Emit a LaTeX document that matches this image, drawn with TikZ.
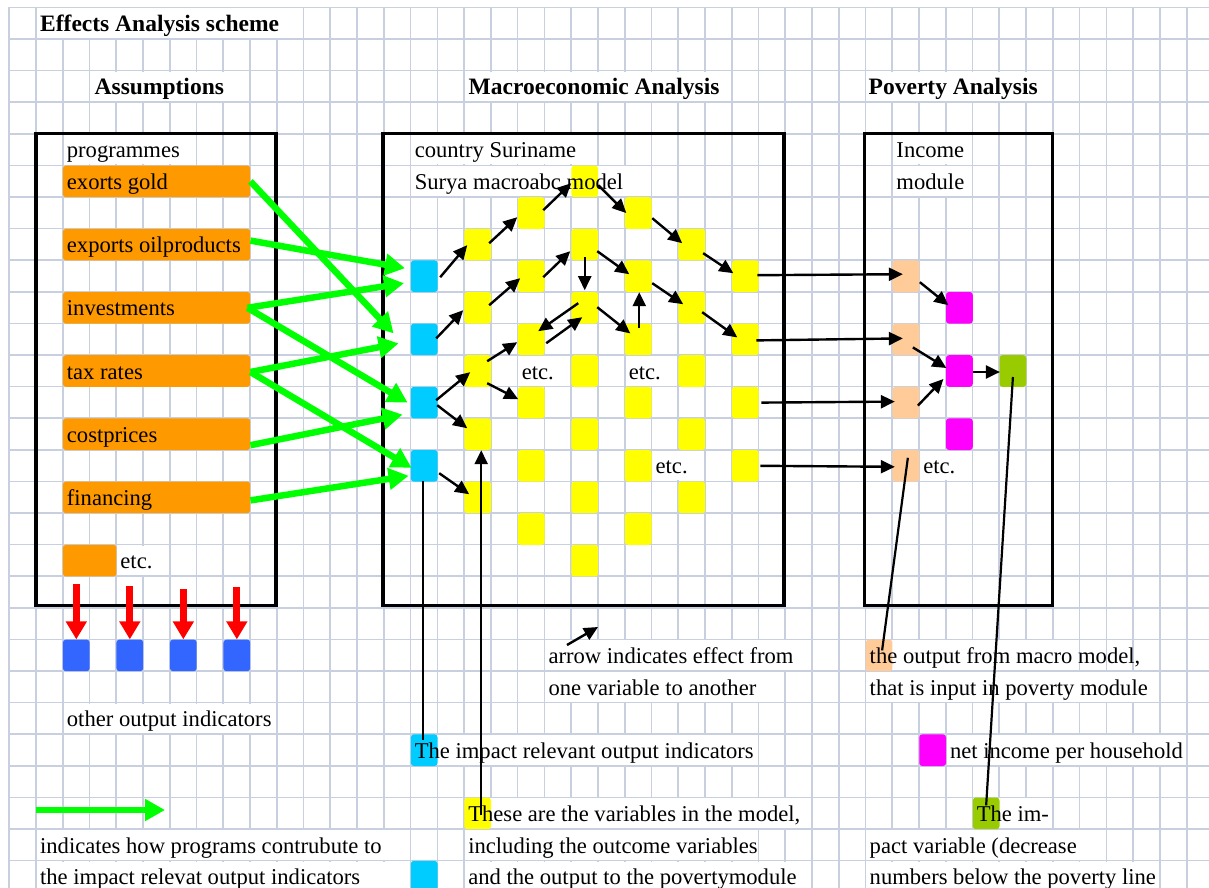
\documentclass[tikz,border=0pt]{standalone}
\usepackage{fontspec}
\setmainfont{Liberation Serif}
\usetikzlibrary{arrows.meta}
\definecolor{gridc}{RGB}{200,208,224}
\definecolor{orng}{RGB}{255,153,0}
\definecolor{yel}{RGB}{255,255,0}
\definecolor{cyn}{RGB}{0,204,255}
\definecolor{blu}{RGB}{51,102,255}
\definecolor{pch}{RGB}{255,204,153}
\definecolor{mag}{RGB}{255,0,255}
\definecolor{grn}{RGB}{153,204,0}
\definecolor{larrow}{RGB}{0,255,0}
\definecolor{rarrow}{RGB}{255,0,0}
\newcommand\wbgcell[3]{\fill[white] ({9.2+26.76*#1+1},{7.4+31.6*#3+1}) rectangle ({9.2+26.76*#2-1},{7.4+31.6*#3+30.6});}
\newcommand\txtcell[4]{\node[txt] (#1) at ({9.2+26.76*#2+4},{7.4+31.6*#3+24.1}) {#4};}
\begin{document}
\begin{tikzpicture}[x=1pt,y=-1pt,
  gridline/.style={draw=gridc,line width=1.7pt},
  txt/.style={anchor=base west,inner sep=0pt,font=\fontsize{22.6}{27}\selectfont},
  hd/.style={anchor=base west,inner sep=0pt,font=\fontsize{23.5}{28}\selectfont\bfseries},
  sq/.style={anchor=north west,minimum width=26.76pt,minimum height=31.6pt,inner sep=0pt,rounded corners=3pt,draw=none},
  bar/.style={anchor=north west,minimum width=187.32pt,minimum height=31.6pt,inner sep=0pt,rounded corners=3pt,draw=none,fill=orng},
  frame/.style={draw=black,line width=3.3pt},
  arr/.style={draw=black,line width=2.4pt,-{Triangle[length=14pt,width=13pt]}},
  ln/.style={draw=black,line width=2.2pt},
  garr/.style={draw=larrow,line width=6.5pt,-{Triangle[length=20pt,width=21pt]}},
  rarr/.style={draw=rarrow,line width=7pt,-{Triangle[length=18pt,width=20pt]}}]
\useasboundingbox (0,0) rectangle (1209,888);
\fill[white] (0,0) rectangle (1209,888);
% grid
\foreach \i in {0,...,45} \draw[gridline] ({9.2+26.76*\i},7.4) -- ({9.2+26.76*\i},888);
\foreach \j in {0,...,27} \draw[gridline] (9.2,{7.4+31.6*\j}) -- (1209,{7.4+31.6*\j});
% white text cells
\wbgcell{1}{11}{0}
\wbgcell{3}{9}{2}
\wbgcell{17}{27}{2}
\wbgcell{32}{39}{2}
\wbgcell{2}{7}{4}
\wbgcell{15}{22}{4}
\wbgcell{15}{24}{5}
\wbgcell{33}{36}{4}
\wbgcell{33}{36}{5}
\wbgcell{4}{6}{17}
\wbgcell{19}{21}{11}
\wbgcell{23}{25}{11}
\wbgcell{24}{26}{14}
\wbgcell{34}{36}{14}
\wbgcell{20}{30}{20}
\wbgcell{20}{29}{21}
\wbgcell{32}{40}{20}
\wbgcell{32}{43}{21}
\wbgcell{2}{10}{22}
\wbgcell{15}{28}{23}
\wbgcell{35}{44}{23}
\wbgcell{17}{30}{25}
\wbgcell{17}{28}{26}
\wbgcell{17}{30}{27}
\wbgcell{36}{39}{25}
\wbgcell{32}{41}{26}
\wbgcell{32}{43}{27}
\wbgcell{1}{15}{26}
\wbgcell{1}{15}{27}
% frames
\draw[frame] (36,133.8) rectangle (276,605.5);
\draw[frame] (383,133.8) rectangle (784,605.5);
\draw[frame] (864.5,133.8) rectangle (1052.3,605.5);
% orange bars
\node[bar] (gold) at ({9.2+26.76*2},{7.4+31.6*5}) {};
\node[bar] (oil) at ({9.2+26.76*2},{7.4+31.6*7}) {};
\node[bar] (inv) at ({9.2+26.76*2},{7.4+31.6*9}) {};
\node[bar] (tax) at ({9.2+26.76*2},{7.4+31.6*11}) {};
\node[bar] (cost) at ({9.2+26.76*2},{7.4+31.6*13}) {};
\node[bar] (fin) at ({9.2+26.76*2},{7.4+31.6*15}) {};
\node[bar,minimum width=53.52pt] (etcbar) at ({9.2+26.76*2},{7.4+31.6*17}) {};
% blue squares
\foreach \c in {2,4,6,8} \node[sq,fill=blu] (b\c) at ({9.2+26.76*\c},{7.4+31.6*20}) {};
% yellow squares
\foreach \c/\r in {21/5,19/6,23/6,17/7,21/7,25/7,19/8,23/8,27/8,17/9,21/9,25/9,19/10,23/10,27/10,17/11,21/11,25/11,19/12,23/12,27/12,17/13,21/13,25/13,19/14,23/14,27/14,17/15,21/15,25/15,19/16,23/16,21/17}
  \node[sq,fill=yel] (y\c-\r) at ({9.2+26.76*\c},{7.4+31.6*\r}) {};
% cyan squares
\foreach \r in {8,10,12,14} \node[sq,fill=cyn] (c\r) at ({9.2+26.76*15},{7.4+31.6*\r}) {};
% peach squares
\foreach \r in {8,10,12,14} \node[sq,fill=pch] (p\r) at ({9.2+26.76*33},{7.4+31.6*\r}) {};
% magenta squares
\foreach \r in {9,11,13} \node[sq,fill=mag] (m\r) at ({9.2+26.76*35},{7.4+31.6*\r}) {};
\node[sq,fill=grn] (g11) at ({9.2+26.76*37},{7.4+31.6*11}) {};
% legend squares
\node[sq,fill=pch] (lp) at ({9.2+26.76*32},{7.4+31.6*20}) {};
\node[sq,fill=cyn] (lc1) at ({9.2+26.76*15},{7.4+31.6*23}) {};
\node[sq,fill=mag] (lm) at ({9.2+26.76*34},{7.4+31.6*23}) {};
\node[sq,fill=yel] (ly) at ({9.2+26.76*17},{7.4+31.6*25}) {};
\node[sq,fill=grn] (lg) at ({9.2+26.76*36},{7.4+31.6*25}) {};
\node[sq,fill=cyn] (lc2) at ({9.2+26.76*15},{7.4+31.6*27}) {};
% headings
\node[hd] (title) at (40,31.5) {Effects Analysis scheme};
\node[hd] (hA) at (94.5,94.7) {Assumptions};
\node[hd] (hM) at (468.5,94.7) {Macroeconomic Analysis};
\node[hd] (hP) at (868.5,94.7) {Poverty Analysis};
% texts
\txtcell{prog}{2}{4}{programmes}
\txtcell{goldt}{2}{5}{exorts gold}
\txtcell{oilt}{2}{7}{exports oilproducts}
\txtcell{invt}{2}{9}{investments}
\txtcell{taxt}{2}{11}{tax rates}
\txtcell{costt}{2}{13}{costprices}
\txtcell{fint}{2}{15}{financing}
\txtcell{etc1}{4}{17}{etc.}
\txtcell{cs1}{15}{4}{country Suriname}
\txtcell{cs2}{15}{5}{Surya macroabc model}
\txtcell{inc1}{33}{4}{Income}
\txtcell{inc2}{33}{5}{module}
\txtcell{etc2}{19}{11}{etc.}
\txtcell{etc3}{23}{11}{etc.}
\txtcell{etc4}{24}{14}{etc.}
\txtcell{etc5}{34}{14}{etc.}
\txtcell{leg1a}{20}{20}{arrow indicates effect from}
\txtcell{leg1b}{20}{21}{one variable to another}
\txtcell{leg2a}{32}{20}{the output from macro model,}
\txtcell{leg2b}{32}{21}{that is input in poverty module}
\txtcell{leg3}{2}{22}{other output indicators}
\txtcell{leg4}{15}{23}{The impact relevant output indicators}
\txtcell{leg5}{35}{23}{net income per household}
\txtcell{leg6a}{17}{25}{These are the variables in the model,}
\txtcell{leg6b}{17}{26}{including the outcome variables}
\txtcell{leg6c}{17}{27}{and the output to the povertymodule}
\txtcell{leg7a}{36}{25}{The im-}
\txtcell{leg7b}{32}{26}{pact variable (decrease}
\txtcell{leg7c}{32}{27}{numbers below the poverty line}
\txtcell{leg8a}{1}{26}{indicates how programs contrubute to}
\txtcell{leg8b}{1}{27}{the impact relevat output indicators}
% red arrows
\draw[rarr] ([shift={(0,-55)}]b2.north) -- (b2.north);
\draw[rarr] ([shift={(0,-53)}]b4.north) -- (b4.north);
\draw[rarr] ([shift={(0,-50)}]b6.north) -- (b6.north);
\draw[rarr] ([shift={(0,-52)}]b8.north) -- (b8.north);
% macro model arrows
\draw[arr] ([shift={(16,1)}]c8.center) -- ([shift={(-10.5,0.6)}]y17-7.center);
\draw[arr] ([shift={(11.5,-1.4)}]y17-7.center) -- ([shift={(-14,4.2)}]y19-6.center);
\draw[arr] ([shift={(12,-2.8)}]y19-6.center) -- ([shift={(-13.5,1.8)}]y21-5.center);
\draw[arr] ([shift={(13.5,3.8)}]y21-5.center) -- ([shift={(-12,0)}]y23-6.center);
\draw[arr] ([shift={(14,5.2)}]y23-6.center) -- ([shift={(-9.6,-1.4)}]y25-7.center);
\draw[arr] ([shift={(11.4,8.6)}]y25-7.center) -- ([shift={(-12,-3)}]y27-8.center);
\draw[arr] ([shift={(12,-1)}]c10.center) -- ([shift={(-14.5,2.4)}]y17-9.center);
\draw[arr] ([shift={(11.5,-2.6)}]y17-9.center) -- ([shift={(-11,2)}]y19-8.center);
\draw[arr] ([shift={(12,1)}]y19-8.center) -- ([shift={(-14.5,6.6)}]y21-7.center);
\draw[arr] ([shift={(0,12.6)}]y21-7.center) -- ([shift={(0,-17.6)}]y21-9.center);
\draw[arr] ([shift={(12.5,6.6)}]y21-7.center) -- ([shift={(-9,-2)}]y23-8.center);
\draw[arr] ([shift={(14,7)}]y23-8.center) -- ([shift={(-8.6,-3.6)}]y25-9.center);
\draw[arr] ([shift={(10.4,4.4)}]y25-9.center) -- ([shift={(-8,-2)}]y27-10.center);
\draw[arr] ([shift={(-6.5,-4.6)}]y21-9.center) -- ([shift={(7,-8.2)}]y19-10.center);
\draw[arr] ([shift={(15,3.8)}]y19-10.center) -- ([shift={(-2.5,9.4)}]y21-9.center);
\draw[arr] ([shift={(12.5,-0.6)}]y21-9.center) -- ([shift={(-8,-6)}]y23-10.center);
\draw[arr] ([shift={(1,-11)}]y23-10.center) -- ([shift={(1,16)}]y23-8.center);
\draw[arr] ([shift={(12,-2.4)}]c12.center) -- ([shift={(-7.5,1.2)}]y17-11.center);
\draw[arr] ([shift={(9.5,-9.8)}]y17-11.center) -- ([shift={(-14,2.8)}]y19-10.center);
\draw[arr] ([shift={(9.5,12.2)}]y17-11.center) -- ([shift={(-13,-3.4)}]y19-12.center);
\draw[arr] ([shift={(13,2.6)}]c12.center) -- ([shift={(-10.5,-6)}]y17-13.center);
\draw[arr] ([shift={(15,7.4)}]c14.center) -- ([shift={(-8.5,-3.2)}]y17-15.center);
\draw[arr] ([shift={(3.5,2)}]ly.center) -- ([shift={(3.5,16)}]y17-13.center);
\draw[ln] ([shift={(-1,15.4)}]c14.center) -- ([shift={(-1,-10)}]lc1.center);
% macro to poverty
\draw[arr] ([shift={(12,-1)}]y27-8.center) -- ([shift={(-3,-2)}]p8.center);
\draw[arr] ([shift={(11,1)}]y27-10.center) -- ([shift={(-3,-1)}]p10.center);
\draw[arr] ([shift={(16,0)}]y27-12.center) -- ([shift={(-11,-1)}]p12.center);
\draw[arr] ([shift={(15,0)}]y27-14.center) -- ([shift={(-11,1)}]p14.center);
% poverty module
\draw[arr] ([shift={(14,6)}]p8.center) -- ([shift={(-11,-2.6)}]m9.center);
\draw[arr] ([shift={(7,8)}]p10.center) -- ([shift={(-13,-3)}]m11.center);
\draw[arr] ([shift={(12,3)}]p12.center) -- ([shift={(-16,8)}]m11.center);
\draw[arr] ([shift={(14,1)}]m11.center) -- ([shift={(-13,1)}]g11.center);
\draw[ln] ([shift={(2,-8)}]p14.center) -- ([shift={(3,-5)}]lp.center);
\draw[ln] ([shift={(0,6)}]g11.center) -- ([shift={(0,-8)}]lg.center);
% green arrows
\draw[garr] (gold.east) -- ([shift={(-17,-6)}]c10.west);
\draw[garr] ([shift={(0,-4)}]oil.east) -- ([shift={(-5.6,-8)}]c8.west);
\draw[garr] ([shift={(-3,0)}]inv.east) -- ([shift={(-6.6,7)}]c8.west);
\draw[garr] ([shift={(-3,0)}]inv.east) -- ([shift={(-3,0)}]c12.west);
\draw[garr] ([shift={(0,1)}]tax.east) -- ([shift={(-12,4)}]c10.west);
\draw[garr] ([shift={(0,1)}]tax.east) -- ([shift={(1,2)}]c14.west);
\draw[garr] ([shift={(0,11)}]cost.east) -- ([shift={(-8,12)}]c12.west);
\draw[garr] ([shift={(0,3)}]fin.east) -- ([shift={(-2,10)}]c14.west);
% legend arrows
\coordinate (lgs) at (36,810);
\coordinate (lge) at (165,810);
\draw[garr] (lgs) -- (lge);
\coordinate (las) at (567,645);
\coordinate (lae) at (598,627);
\draw[arr] (las) -- (lae);
\end{tikzpicture}
\end{document}
